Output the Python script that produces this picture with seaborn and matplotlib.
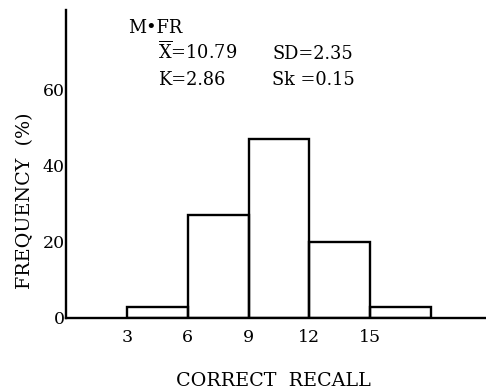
import matplotlib
matplotlib.use("Agg")
import matplotlib.pyplot as plt
import seaborn as sns
import numpy as np
import pandas as pd

# Data
bin_edges = [3, 6, 9, 12, 15, 18]
bin_centers = [4.5, 7.5, 10.5, 13.5, 16.5]
frequency_pct = [3, 27, 47, 20, 3]
x_ticks = [3, 6, 9, 12, 15]
y_ticks = [0, 20, 40, 60]

df = pd.DataFrame({"recall": bin_centers, "freq": frequency_pct})

sns.set_theme(style="white")
plt.rcParams['font.family'] = ['DejaVu Serif', 'Liberation Serif']
plt.rcParams['mathtext.fontset'] = 'dejavuserif'
plt.rcParams['text.color'] = 'black'

fig = plt.figure(figsize=(4.86, 3.92), dpi=100)
ax = fig.add_axes([66/486, 1-318/392, 1-66/486, (318-10)/392])

sns.histplot(data=df, x="recall", weights="freq", bins=bin_edges,
             element="bars", fill=False, color="black", linewidth=1.7, ax=ax)

ax.set_xlim(0, 20.7)
ax.set_ylim(0, 81)
ax.set_xticks(x_ticks)
ax.set_yticks(y_ticks)
ax.tick_params(axis='x', direction='in', length=4, width=1.5, pad=8,
               labelsize=12.5, colors='black')
ax.tick_params(axis='y', direction='in', length=5, width=1.5, pad=1,
               labelsize=12.5, colors='black')
for s in ['top', 'right']:
    ax.spines[s].set_visible(False)
for s in ['left', 'bottom']:
    ax.spines[s].set_color('black')
    ax.spines[s].set_linewidth(1.7)
ax.set_xlabel("")
ax.set_ylabel("")

fig.text(25/486, 1-201/392, "FREQUENCY  (%)", rotation=90, ha='center',
         va='center', fontsize=13.8, color='black')
fig.text(273/486, 1-386/392, "CORRECT  RECALL", ha='center', va='baseline',
         fontsize=13.8, color='black')

fs = 12.8
fig.text(128/486, 1-33/392, "M•FR", ha='left', va='baseline', fontsize=fs, color='black')
fig.text(158/486, 1-59/392, r"$\overline{\mathrm{X}}$=10.79", ha='left',
         va='baseline', fontsize=fs, color='black')
fig.text(272/486, 1-59/392, "SD=2.35", ha='left', va='baseline', fontsize=fs, color='black')
fig.text(158/486, 1-85/392, "K=2.86", ha='left', va='baseline', fontsize=fs, color='black')
fig.text(272/486, 1-85/392, "Sk =0.15", ha='left', va='baseline', fontsize=fs, color='black')

fig.savefig("out.png", dpi=100)
